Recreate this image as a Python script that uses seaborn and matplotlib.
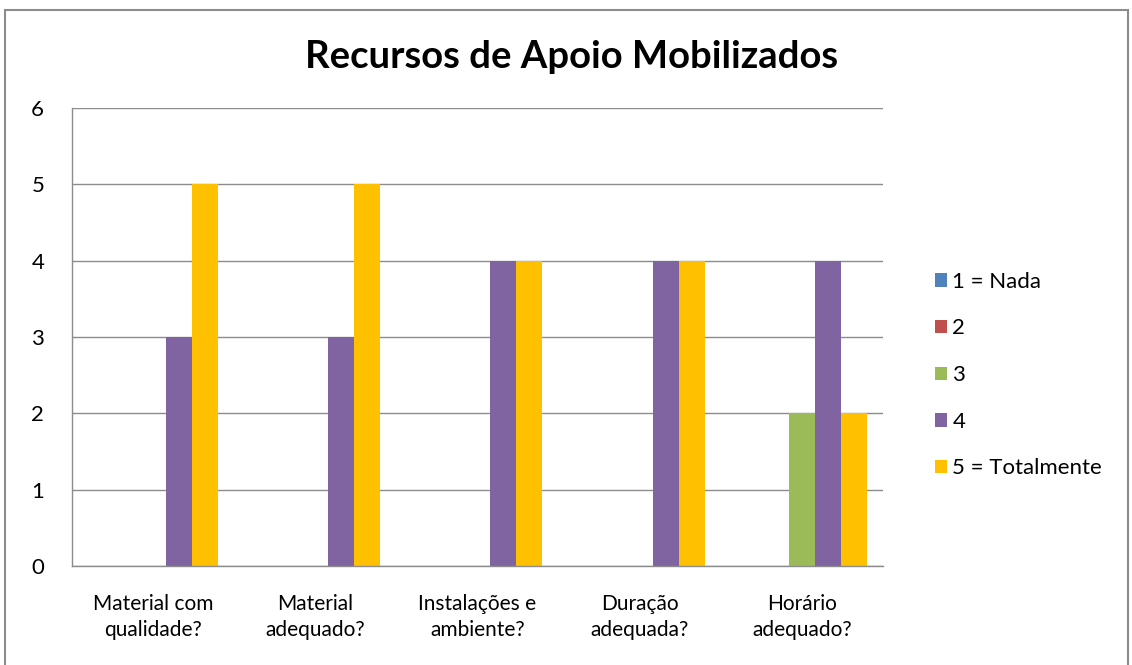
### recursos de apoio mobilizados
#   grouped bar chart of answers (1-5) per question

# import statements
import matplotlib
matplotlib.use('Agg')
import matplotlib.pyplot as plt
import pandas as pd
import seaborn as sns
from matplotlib.patches import Rectangle

# data
questions = ['Material com\nqualidade?', 'Material\nadequado?',
             'Instalações e\nambiente?', 'Duração\nadequada?',
             'Horário\nadequado?']
scores = ['1 = Nada', '2', '3', '4', '5 = Totalmente']
nada       = [0, 0, 0, 0, 0]
dois       = [0, 0, 0, 0, 0]
tres       = [0, 0, 0, 0, 2]
quatro     = [3, 3, 4, 4, 4]
totalmente = [5, 5, 4, 4, 2]
yticks = [0, 1, 2, 3, 4, 5, 6]
colors = ['#4F81BD', '#C0504D', '#9BBB59', '#8064A2', '#FFC000']

# build long dataframe for seaborn
series = [nada, dois, tres, quatro, totalmente]
rows = []
for score, values in zip(scores, series):
    for question, value in zip(questions, values):
        rows.append((question, score, value))
df = pd.DataFrame(rows, columns = ['question', 'score', 'value'])

# style
sns.set_style('white')
plt.rcParams['font.family'] = ['Lato', 'DejaVu Sans']
plt.rcParams['text.color'] = 'black'
plt.rcParams['xtick.color'] = 'black'
plt.rcParams['ytick.color'] = 'black'

fig = plt.figure(figsize = (11.32, 6.65), dpi = 100)
ax = fig.add_axes([0.0636, 0.1489, 0.7164, 0.6887])

sns.barplot(data = df, x = 'question', y = 'value', hue = 'score',
            palette = colors, width = 0.8, saturation = 1, linewidth = 0,
            gap = 0, ax = ax)

# axes formatting
ax.set_ylim(0, 6)
ax.set_yticks(yticks)
ax.set_xlabel('')
ax.set_ylabel('')
ax.grid(axis = 'y', color = '#8c8c8c', linewidth = 1)
ax.set_axisbelow(True)
for side in ['top', 'right']:
    ax.spines[side].set_visible(False)
for side in ['left', 'bottom']:
    ax.spines[side].set_color('#8c8c8c')
    ax.spines[side].set_linewidth(1)
ax.tick_params(axis = 'y', length = 0, pad = 20, labelsize = 16)
ax.tick_params(axis = 'x', length = 0, pad = 20, labelsize = 15)
for label in ax.get_xticklabels():
    label.set_linespacing(1.4)

# legend on the right
handles, labels = ax.get_legend_handles_labels()
ax.legend(handles, labels, loc = 'center left',
          bbox_to_anchor = (0.808, 0.436), bbox_transform = fig.transFigure,
          frameon = False, fontsize = 16, handlelength = 0.55,
          handleheight = 0.55, handletextpad = 0.25, labelspacing = 1.2)

# title
fig.text(0.505, 0.915, 'Recursos de Apoio Mobilizados', ha = 'center',
         va = 'center', fontsize = 27.5, fontweight = 'bold')

# outer border
fig.patches.append(Rectangle((0.0045, -0.01), 0.992, 0.995,
                             transform = fig.transFigure, fill = False,
                             edgecolor = '#8c8c8c', linewidth = 1.5))

plt.savefig('out.png', dpi = 100)
